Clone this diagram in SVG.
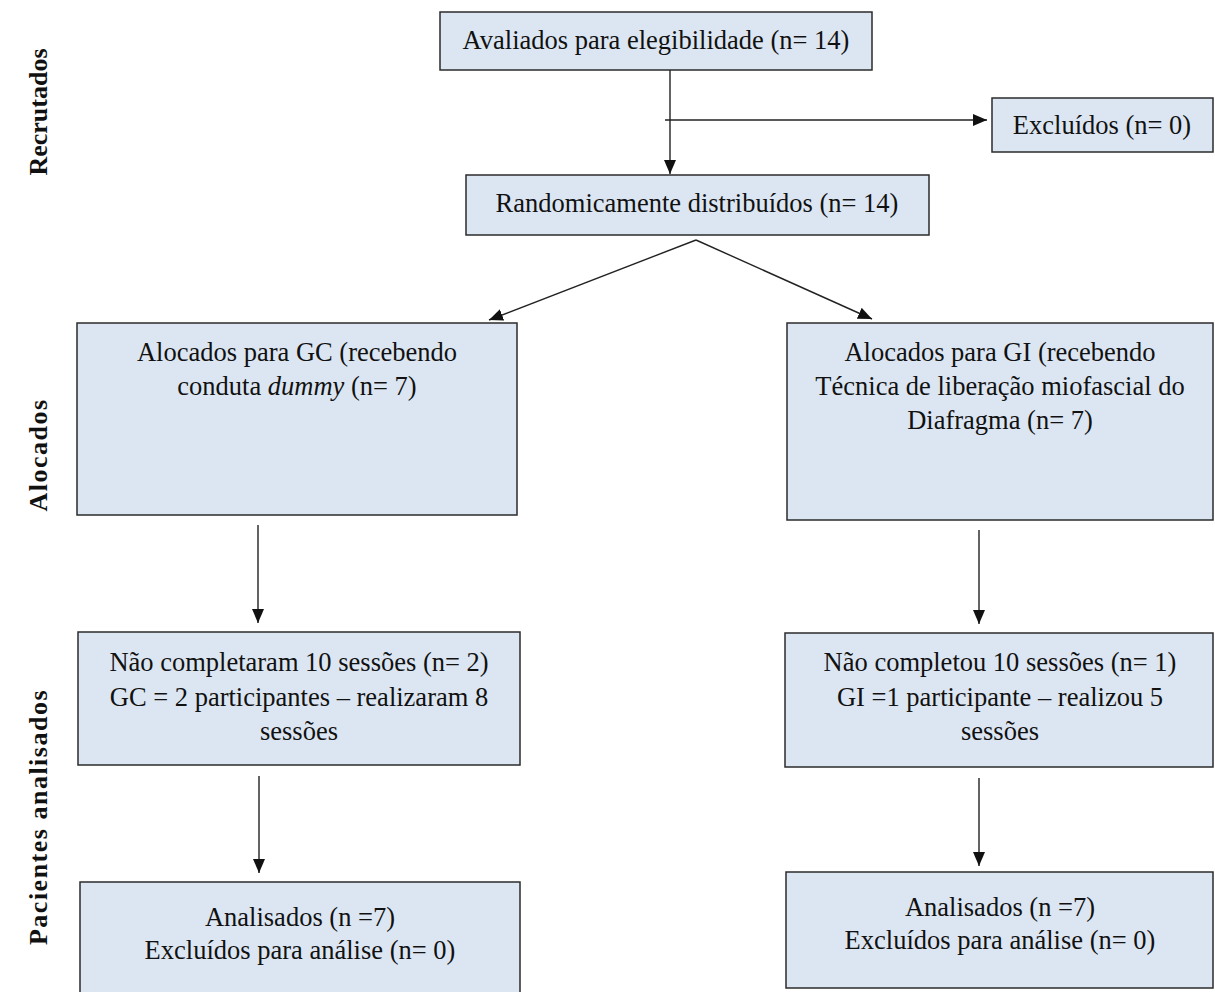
<svg xmlns="http://www.w3.org/2000/svg" width="1215" height="992" viewBox="0 0 1215 992">
<style>
.box{fill:#dce6f2;stroke:#2b2b2b;stroke-width:1.5}
.t{font-family:"Liberation Serif","Times New Roman",serif;font-size:26.5px;fill:#111;text-anchor:middle}
.lab{font-family:"Liberation Serif","Times New Roman",serif;font-size:26px;font-weight:bold;fill:#111;text-anchor:middle}
.c{stroke:#222;stroke-width:1.4;fill:none;marker-end:url(#ah)}
</style>
<defs>
<marker id="ah" viewBox="0 0 14 12" refX="14" refY="6" markerWidth="14" markerHeight="12" markerUnits="userSpaceOnUse" orient="auto">
<path d="M0,0 L14,6 L0,12 z" fill="#111"/>
</marker>
</defs>
<rect width="1215" height="992" fill="#fff"/>
<g id="labels">
<text class="lab" transform="translate(47,112) rotate(-90)">Recrutados</text>
<text class="lab" transform="translate(47,455) rotate(-90)" letter-spacing="1.5">Alocados</text>
<text class="lab" transform="translate(47,817) rotate(-90)" letter-spacing="1.5">Pacientes analisados</text>
</g>
<g id="connectors">
<line class="c" x1="670" y1="70" x2="670" y2="174"/>
<line class="c" x1="665" y1="120" x2="987" y2="120"/>
<line class="c" x1="696" y1="240" x2="489" y2="320"/>
<line class="c" x1="696" y1="240" x2="872" y2="319"/>
<line class="c" x1="258" y1="525" x2="258" y2="623"/>
<line class="c" x1="979" y1="530" x2="979" y2="624"/>
<line class="c" x1="259" y1="776" x2="259" y2="873"/>
<line class="c" x1="979" y1="778" x2="979" y2="866"/>
</g>
<g id="n-avaliados">
<rect class="box" x="440" y="12" width="432" height="58"/>
<text class="t" x="656" y="49">Avaliados para elegibilidade (n= 14)</text>
</g>
<g id="n-excluidos">
<rect class="box" x="992" y="98" width="221" height="54"/>
<text class="t" x="1102" y="134">Excluídos (n= 0)</text>
</g>
<g id="n-random">
<rect class="box" x="466" y="175" width="463" height="60"/>
<text class="t" x="697" y="212">Randomicamente distribuídos (n= 14)</text>
</g>
<g id="n-gc">
<rect class="box" x="77" y="323" width="440" height="192"/>
<text class="t" x="297" y="361">Alocados para GC (recebendo</text>
<text class="t" x="297" y="395">conduta <tspan font-style="italic">dummy</tspan> (n= 7)</text>
</g>
<g id="n-gi">
<rect class="box" x="787" y="323" width="426" height="197"/>
<text class="t" x="1000" y="361">Alocados para GI (recebendo</text>
<text class="t" x="1000" y="395">Técnica de liberação miofascial do</text>
<text class="t" x="1000" y="429">Diafragma (n= 7)</text>
</g>
<g id="n-gc-nao">
<rect class="box" x="78" y="632" width="442" height="133"/>
<text class="t" x="299" y="671">Não completaram 10 sessões (n= 2)</text>
<text class="t" x="299" y="706">GC = 2 participantes – realizaram 8</text>
<text class="t" x="299" y="740">sessões</text>
</g>
<g id="n-gi-nao">
<rect class="box" x="785" y="633" width="428" height="134"/>
<text class="t" x="1000" y="671">Não completou 10 sessões (n= 1)</text>
<text class="t" x="1000" y="706">GI =1 participante – realizou 5</text>
<text class="t" x="1000" y="740">sessões</text>
</g>
<g id="n-gc-anal">
<rect class="box" x="80" y="882" width="440" height="112"/>
<text class="t" x="300" y="926">Analisados (n =7)</text>
<text class="t" x="300" y="959">Excluídos para análise (n= 0)</text>
</g>
<g id="n-gi-anal">
<rect class="box" x="786" y="872" width="427" height="116"/>
<text class="t" x="1000" y="916">Analisados (n =7)</text>
<text class="t" x="1000" y="949">Excluídos para análise (n= 0)</text>
</g>
</svg>
